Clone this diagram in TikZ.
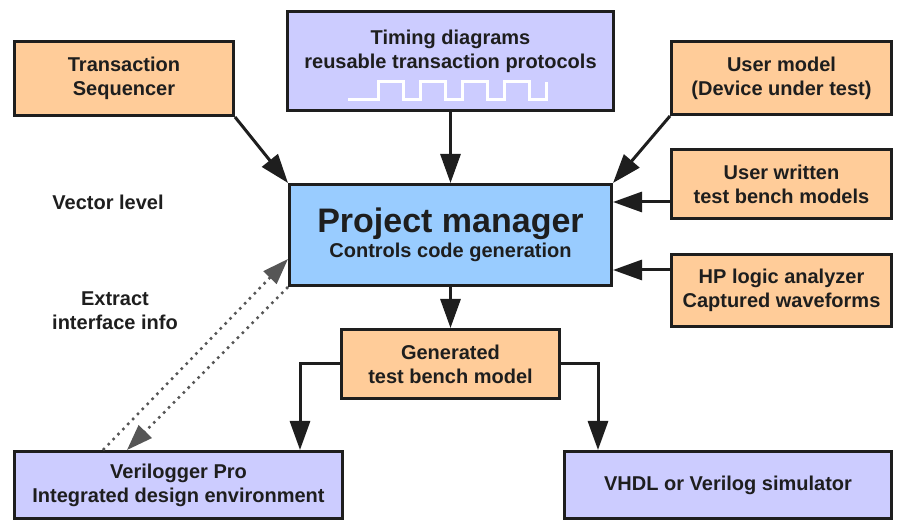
\documentclass[tikz,border=0pt]{standalone}
\usepackage{fontspec}
\setmainfont{Liberation Sans}
\usepackage{xcolor}
\usetikzlibrary{arrows.meta, positioning, calc}
\definecolor{lavender}{RGB}{204,204,255}
\definecolor{peach}{RGB}{255,204,153}
\definecolor{skyblue}{RGB}{153,204,255}
\definecolor{ink}{RGB}{30,30,30}

\begin{document}
\begin{tikzpicture}[
  x=1pt, y=1pt,
  node distance=40pt,
  block/.style={rectangle, draw=ink, line width=3pt, align=center, text=ink, inner sep=3pt, font=\bfseries\fontsize{20}{24}\selectfont, fill=#1},
  note/.style={align=center, text=ink, font=\bfseries\fontsize{20}{24}\selectfont},
  arrow/.style={-{Triangle[length=29pt, width=20pt]}, line width=3pt, draw=ink},
  link/.style={-{Triangle[length=26pt, width=18pt]}, line width=2.5pt, draw=ink!75, dash pattern=on 2.5pt off 4.5pt},
  wave/.style={draw=white, line width=3pt},
]
\useasboundingbox (0,0) rectangle (898,525);

\node[block=skyblue, minimum width=322pt, minimum height=101pt] (pm) at (450.5,290)
  {\fontsize{34}{38}\selectfont Project manager\\[1pt]\fontsize{20}{24}\selectfont Controls code generation};
\node[block=lavender, minimum width=326pt, minimum height=99pt, above=71pt of pm] (timing)
  {Timing diagrams\\reusable transaction protocols\\[0pt]\mbox{}};
\node[block=peach, minimum width=218pt, minimum height=69pt, below=41pt of pm] (gen) {Generated\\test bench model};
\node[block=peach, minimum width=219pt, minimum height=74pt] (seq) at (124,446.5) {Transaction\\Sequencer};
\node[block=peach, minimum width=220pt, minimum height=73pt] (usermodel) at (781.5,447) {User model\\(Device under test)};
\node[block=peach, minimum width=220pt, minimum height=69pt] (userwr) at (781.5,341) {User written\\test bench models};
\node[block=peach, minimum width=220pt, minimum height=72pt] (hp) at (781.5,234.5) {HP logic analyzer\\Captured waveforms};
\node[block=lavender, minimum width=328pt, minimum height=67pt] (verilog) at (178.5,40) {Verilogger Pro\\Integrated design environment};
\node[block=lavender, minimum width=327pt, minimum height=67pt] (vhdl) at (728,40) {VHDL or Verilog simulator};

\node[note] (vector) at (108,323) {Vector level};
\node[note] (extract) at (115,214) {Extract\\interface info};

% waveform inside the timing box
\draw[wave] ($(timing.south west)+(62,12)$) -- ++(30,0)
  \foreach \i in {1,...,4} { -- ++(0,18) -- ++(25,0) -- ++(0,-18) -- ++(17,0) } -- ++(0,18);

\draw[arrow] (seq.south east) -- (pm.north west);
\draw[arrow] (timing) -- (pm);
\draw[arrow] (usermodel.south west) -- (pm.north east);
\draw[arrow] ([yshift=33pt]pm.east -| userwr.west) -- ([yshift=33pt]pm.east);
\draw[arrow] ([yshift=-35pt]pm.east -| hp.west) -- ([yshift=-35pt]pm.east);
\draw[arrow] (pm) -- (gen);
\draw[arrow] (gen.west) -| ([xshift=-44pt]verilog.north east);
\draw[arrow] (gen.east) -| ([xshift=35pt]vhdl.north west);

\draw[link] ([xshift=90pt]verilog.north west) -- ([yshift=-24pt]pm.west);
\draw[link] (pm.south west) -- ([xshift=114pt]verilog.north west);

\end{tikzpicture}
\end{document}
